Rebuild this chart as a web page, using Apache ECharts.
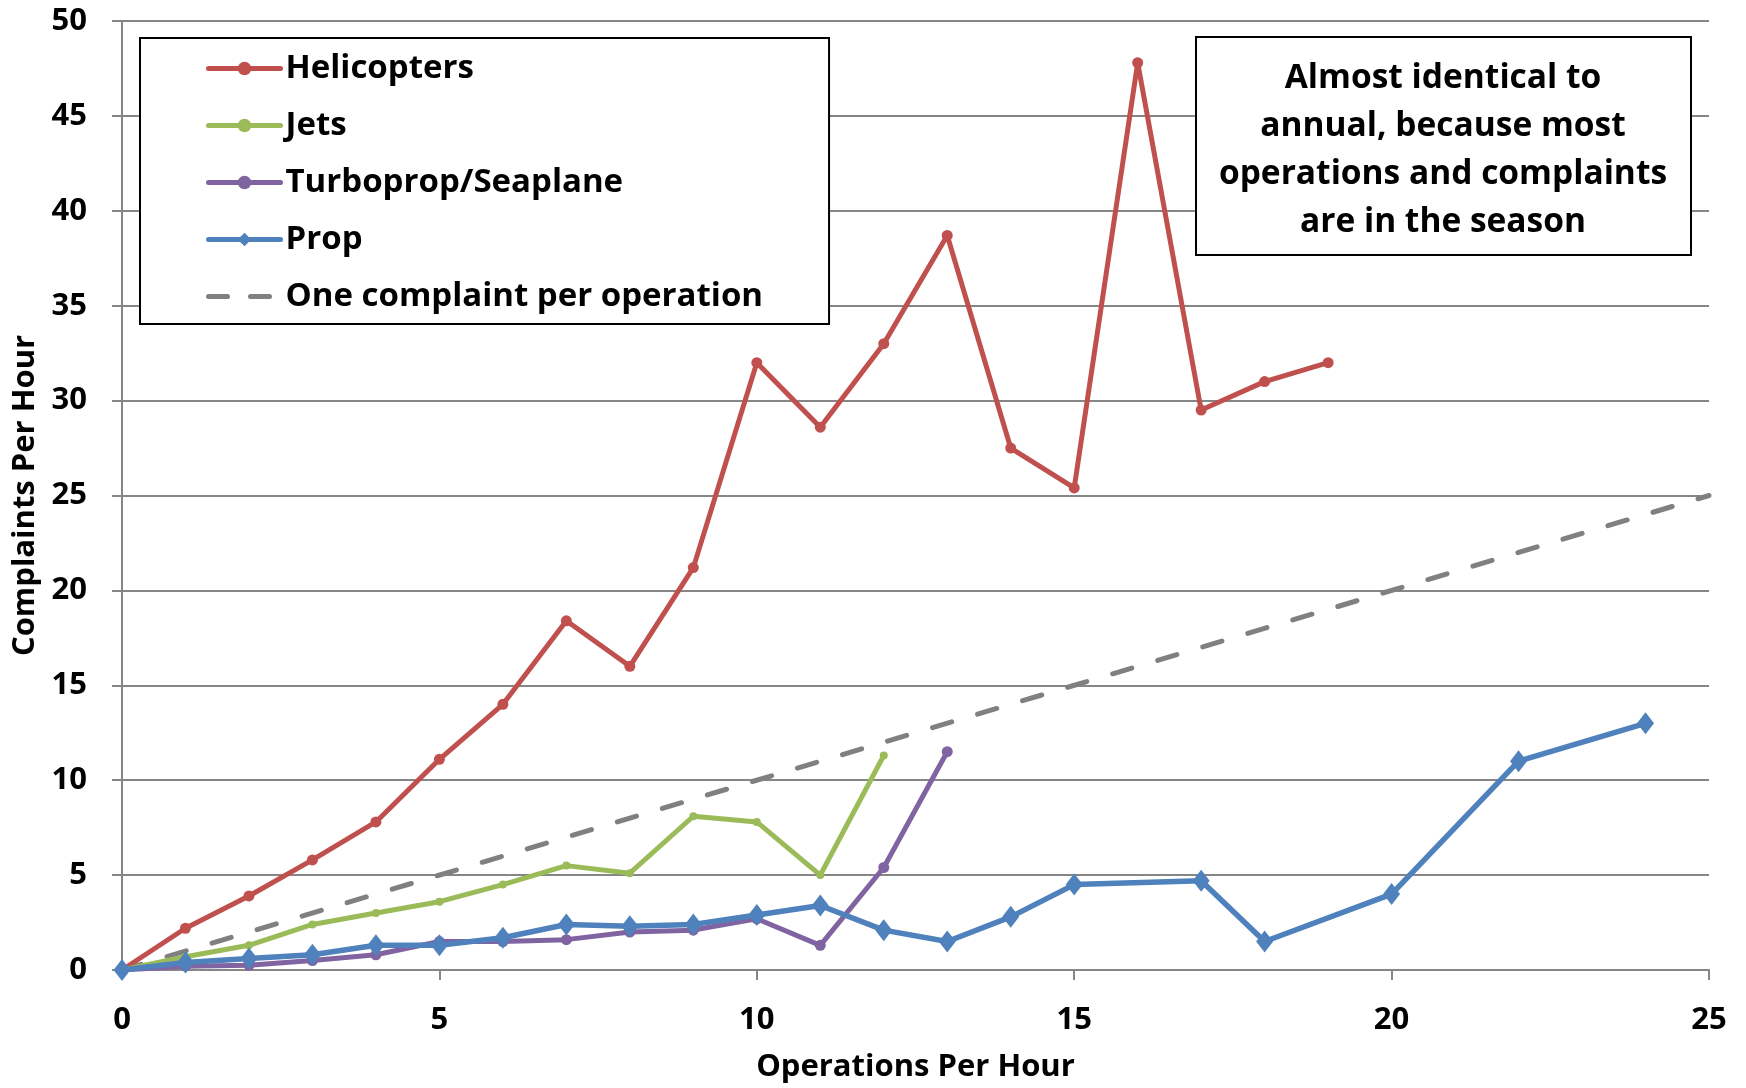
<!DOCTYPE html>
<html>
<head>
<meta charset="utf-8">
<script src="https://cdn.jsdelivr.net/npm/echarts@6/dist/echarts.min.js"></script>
<style>
  html, body { margin: 0; padding: 0; background: #fff; }
  #chart { width: 1746px; height: 1088px; }
</style>
</head>
<body>
<div id="chart"></div>
<script>
// Operations per hour (x) and complaints per hour (y) for each aircraft type
const heliOps = [0, 1, 2, 3, 4, 5, 6, 7, 8, 9, 10, 11, 12, 13, 14, 15, 16, 17, 18, 19];
const heliComplaints = [0, 2.2, 3.9, 5.8, 7.8, 11.1, 14.0, 18.4, 16.0, 21.2, 32.0, 28.6, 33.0, 38.7, 27.5, 25.4, 47.8, 29.5, 31.0, 32.0];

const jetOps = [0, 1, 2, 3, 4, 5, 6, 7, 8, 9, 10, 11, 12];
const jetComplaints = [0, 0.7, 1.3, 2.4, 3.0, 3.6, 4.5, 5.5, 5.1, 8.1, 7.8, 5.0, 11.3];

const turboOps = [0, 1, 2, 3, 4, 5, 6, 7, 8, 9, 10, 11, 12, 13];
const turboComplaints = [0, 0.2, 0.25, 0.5, 0.8, 1.5, 1.5, 1.6, 2.0, 2.1, 2.7, 1.3, 5.4, 11.5];

const propOps = [0, 1, 2, 3, 4, 5, 6, 7, 8, 9, 10, 11, 12, 13, 14, 15, 17, 18, 20, 22, 24];
const propComplaints = [0, 0.4, 0.6, 0.8, 1.3, 1.3, 1.7, 2.4, 2.3, 2.4, 2.9, 3.4, 2.1, 1.5, 2.8, 4.5, 4.7, 1.5, 4.0, 11.0, 13.0];

// Reference line: one complaint per operation
const refOps = [0, 25];
const refComplaints = [0, 25];

const seriesNames = ['Helicopters', 'Jets', 'Turboprop/Seaplane', 'Prop', 'One complaint per operation'];
const noteLines = ['Almost identical to', 'annual, because most', 'operations and complaints', 'are in the season'];

const pairs = (xs, ys) => xs.map((x, i) => [x, ys[i]]);

const font = "'Open Sans', 'DejaVu Sans', sans-serif";

const chart = echarts.init(document.getElementById('chart'), null, { renderer: 'canvas' });

chart.setOption({
  animation: false,
  backgroundColor: '#ffffff',
  grid: { left: 122, right: 37, top: 21, bottom: 115, containLabel: false },
  xAxis: {
    type: 'value',
    min: 0, max: 25, interval: 5,
    name: 'Operations Per Hour',
    nameLocation: 'middle',
    nameGap: 82,
    nameTextStyle: { fontFamily: font, fontWeight: 'bold', fontSize: 31, color: '#000' },
    axisLine: { show: true, lineStyle: { color: '#868686', width: 2 } },
    axisTick: { show: true, inside: false, length: 10, lineStyle: { color: '#868686', width: 2 } },
    axisLabel: { fontFamily: font, fontWeight: 'bold', fontSize: 31, color: '#000', margin: 35 },
    splitLine: { show: false }
  },
  yAxis: {
    type: 'value',
    min: 0, max: 50, interval: 5,
    name: 'Complaints Per Hour',
    nameLocation: 'middle',
    nameGap: 77,
    nameRotate: 90,
    nameTextStyle: { fontFamily: font, fontWeight: 'bold', fontSize: 31, color: '#000' },
    axisLine: { show: true, lineStyle: { color: '#868686', width: 2 } },
    axisTick: { show: true, inside: false, length: 10, lineStyle: { color: '#868686', width: 2 } },
    axisLabel: { fontFamily: font, fontWeight: 'bold', fontSize: 31, color: '#000', margin: 35 },
    splitLine: { show: true, lineStyle: { color: '#868686', width: 2 } }
  },
  legend: {
    orient: 'vertical',
    left: 140, top: 38,
    data: [
      seriesNames[0], seriesNames[1], seriesNames[2], seriesNames[3],
      { name: seriesNames[4], itemStyle: { opacity: 0 }, lineStyle: { type: [19, 23], cap: 'round' } }
    ],
    backgroundColor: '#ffffff',
    borderColor: '#000',
    borderWidth: 2,
    borderRadius: 0,
    padding: [14, 66, 11, 66],
    itemGap: 24,
    itemWidth: 72,
    itemHeight: 17,
    lineStyle: { width: 5, cap: 'round' },
    textStyle: { fontFamily: font, fontWeight: 'bold', fontSize: 33, color: '#000' }
  },
  graphic: [
    {
      type: 'rect',
      shape: { x: 1196, y: 37, width: 495, height: 218 },
      style: { fill: '#ffffff', stroke: '#000', lineWidth: 2 },
      z: 100
    },
    {
      type: 'text',
      x: 1443, y: 150,
      style: {
        text: noteLines.join('\n'),
        fontFamily: font, fontWeight: 'bold', fontSize: 33.5, fill: '#000',
        align: 'center', verticalAlign: 'middle', lineHeight: 48
      },
      z: 101
    }
  ],
  series: [
    {
      name: seriesNames[4], type: 'line', data: pairs(refOps, refComplaints),
      symbol: 'none', z: 1,
      lineStyle: { color: '#808080', width: 5, type: [20, 27], cap: 'round' },
      itemStyle: { color: '#808080' }
    },
    {
      name: seriesNames[0], type: 'line', data: pairs(heliOps, heliComplaints),
      symbol: 'circle', symbolSize: 11, z: 2,
      lineStyle: { color: '#C0504D', width: 5 },
      itemStyle: { color: '#C0504D' }
    },
    {
      name: seriesNames[1], type: 'line', data: pairs(jetOps, jetComplaints),
      symbol: 'circle', symbolSize: 8, z: 3,
      lineStyle: { color: '#9BBB59', width: 5 },
      itemStyle: { color: '#9BBB59' }
    },
    {
      name: seriesNames[2], type: 'line', data: pairs(turboOps, turboComplaints),
      symbol: 'circle', symbolSize: 11, z: 4,
      lineStyle: { color: '#8064A2', width: 5 },
      itemStyle: { color: '#8064A2' }
    },
    {
      name: seriesNames[3], type: 'line', data: pairs(propOps, propComplaints),
      symbol: 'diamond', symbolSize: [17, 22], z: 5,
      lineStyle: { color: '#4F81BD', width: 5.5 },
      itemStyle: { color: '#4F81BD' }
    }
  ]
});
</script>
</body>
</html>
